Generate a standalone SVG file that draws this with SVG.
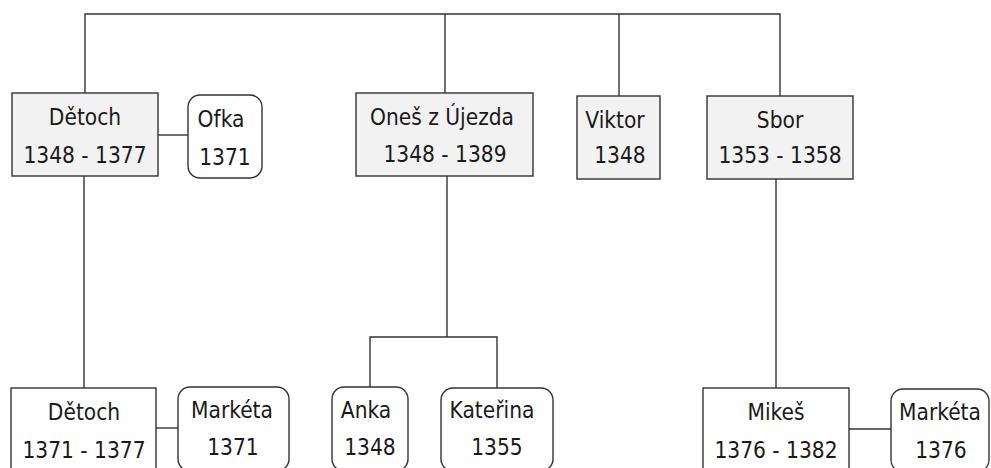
<svg xmlns="http://www.w3.org/2000/svg" width="991" height="468" viewBox="0 0 991 468">
<style>
.box{stroke:#333;stroke-width:1.4;fill:#f2f2f2}
.wbox{stroke:#333;stroke-width:1.4;fill:#fff}
.rbox{stroke:#333;stroke-width:1.4;fill:#fff}
.c{stroke:#333;stroke-width:1.4;fill:none}
text{font-family:"DejaVu Sans Condensed","DejaVu Sans",sans-serif;font-stretch:condensed;font-size:22.5px;fill:#1a1a1a;text-anchor:middle}
</style>
<rect width="991" height="468" fill="#fff"/>
<g id="connectors">
<polyline class="c" points="85,93 85,14 780,14 780,96"/>
<line class="c" x1="445" y1="14" x2="445" y2="93"/>
<line class="c" x1="619" y1="14" x2="619" y2="96"/>
<line class="c" x1="158" y1="135" x2="188" y2="135"/>
<line class="c" x1="84" y1="176" x2="84" y2="388"/>
<line class="c" x1="447" y1="176" x2="447" y2="337"/>
<polyline class="c" points="370,387 370,337 497,337 497,388"/>
<line class="c" x1="776" y1="179" x2="776" y2="388"/>
<line class="c" x1="156" y1="428" x2="178" y2="428"/>
<line class="c" x1="849" y1="429" x2="891" y2="429"/>
</g>
<g id="detoch1"><rect class="box" x="12" y="93" width="146" height="83"/><text x="85" y="125">Dětoch</text><text x="85" y="163">1348 - 1377</text></g>
<g id="ofka"><rect class="rbox" x="188" y="95" width="74" height="83" rx="12"/><text x="221" y="127">Ofka</text><text x="225" y="165">1371</text></g>
<g id="ones"><rect class="box" x="356" y="93" width="177" height="83"/><text x="442" y="125">Oneš z Újezda</text><text x="445" y="162">1348 - 1389</text></g>
<g id="viktor"><rect class="box" x="577" y="96" width="83" height="83"/><text x="615" y="128">Viktor</text><text x="620" y="163">1348</text></g>
<g id="sbor"><rect class="box" x="707" y="96" width="146" height="83"/><text x="780" y="128">Sbor</text><text x="780" y="163">1353 - 1358</text></g>
<g id="detoch2"><rect class="wbox" x="11" y="388" width="145" height="83"/><text x="84" y="420">Dětoch</text><text x="84" y="458">1371 - 1377</text></g>
<g id="marketa1"><rect class="rbox" x="178" y="387" width="111" height="84" rx="12"/><text x="232" y="418">Markéta</text><text x="233" y="455">1371</text></g>
<g id="anka"><rect class="rbox" x="332" y="387" width="76" height="84" rx="12"/><text x="366" y="418">Anka</text><text x="370" y="455">1348</text></g>
<g id="katerina"><rect class="rbox" x="441" y="388" width="112" height="83" rx="12"/><text x="492" y="418">Kateřina</text><text x="497" y="455">1355</text></g>
<g id="mikes"><rect class="wbox" x="703" y="388" width="146" height="83"/><text x="776" y="420">Mikeš</text><text x="776" y="458">1376 - 1382</text></g>
<g id="marketa2"><rect class="rbox" x="891" y="389" width="98" height="83" rx="12"/><text x="940" y="420">Markéta</text><text x="941" y="458">1376</text></g>
</svg>
